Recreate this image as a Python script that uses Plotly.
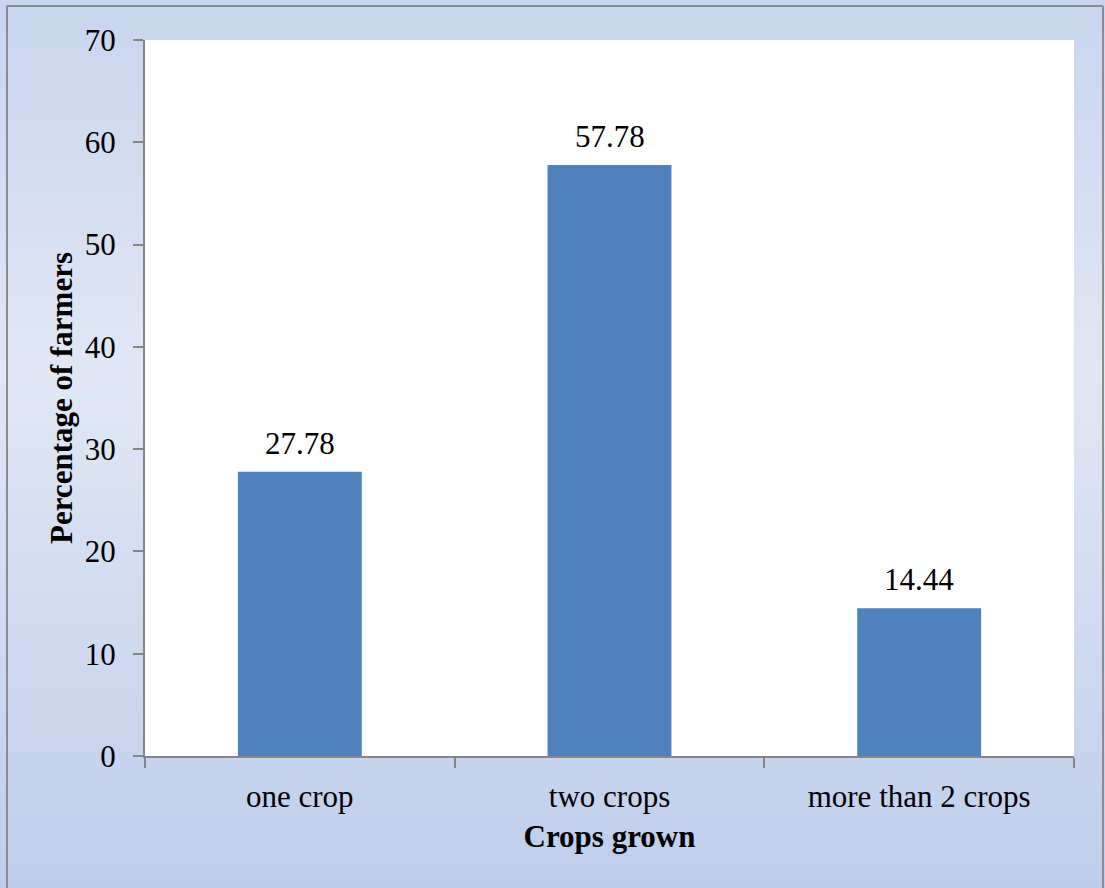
import plotly.graph_objects as go

# Data
categories = ["one crop", "two crops", "more than 2 crops"]
percentages = [27.78, 57.78, 14.44]
y_ticks = [0, 10, 20, 30, 40, 50, 60, 70]

W, H = 1105, 888
ML, MR, MT, MB = 145, 31, 40, 132
PW, PH = W - ML - MR, H - MT - MB

FONT = "Liberation Serif, Times New Roman, serif"
AXIS_GREY = "#868686"


def px_x(p):
    return (p - ML) / PW


def px_y(p):
    return 1 - (p - MT) / PH


def lerp(c1, c2, t):
    return tuple(round(a + (b - a) * t) for a, b in zip(c1, c2))


top_c = (0xC7, 0xD5, 0xEE)
mid_c = (0xE1, 0xE7, 0xF5)
bot_c = (0xBE, 0xCE, 0xEA)
mid_pos = 0.42

shapes = []
n = 90
for i in range(n):
    y0p = H * i / n
    y1p = H * (i + 1) / n
    t = (i + 0.5) / n
    if t < mid_pos:
        c = lerp(top_c, mid_c, t / mid_pos)
    else:
        c = lerp(mid_c, bot_c, (t - mid_pos) / (1 - mid_pos))
    shapes.append(dict(
        type="rect", xref="paper", yref="paper", layer="below",
        x0=px_x(0), x1=px_x(W), y0=px_y(y1p + 0.5), y1=px_y(y0p - 0.5),
        fillcolor="rgb(%d,%d,%d)" % c, line=dict(width=0),
    ))

# white plotting area on top of the gradient
shapes.append(dict(
    type="rect", xref="paper", yref="paper", layer="below",
    x0=0, x1=1, y0=0, y1=1, fillcolor="white", line=dict(width=0),
))

# outer frame of the chart
frame = dict(color="#8c8c8c", width=2)
shapes.append(dict(type="line", xref="paper", yref="paper",
                   x0=px_x(7), x1=px_x(7), y0=px_y(6), y1=px_y(H + 5), line=frame))
shapes.append(dict(type="line", xref="paper", yref="paper",
                   x0=px_x(7), x1=px_x(1103), y0=px_y(6), y1=px_y(6), line=frame))
shapes.append(dict(type="line", xref="paper", yref="paper",
                   x0=px_x(1103), x1=px_x(1103), y0=px_y(6), y1=px_y(H + 5), line=frame))

fig = go.Figure(go.Bar(
    x=categories, y=percentages,
    marker=dict(color="#4f81bd", line=dict(width=0)),
    hoverinfo="x+y",
))

annotations = [
    dict(x=c, y=v, xref="x", yref="y", text=f"{v:.2f}", showarrow=False,
         yanchor="bottom", yshift=9, font=dict(family=FONT, size=31, color="black"))
    for c, v in zip(categories, percentages)
]

fig.update_layout(
    width=W, height=H,
    margin=dict(l=ML, r=MR, t=MT, b=MB, pad=0),
    paper_bgcolor="rgba(0,0,0,0)",
    plot_bgcolor="rgba(0,0,0,0)",
    bargap=0.6,
    showlegend=False,
    shapes=shapes,
    annotations=annotations,
    font=dict(family=FONT, size=31, color="black"),
    xaxis=dict(
        type="category", tickson="boundaries",
        showline=True, linecolor=AXIS_GREY, linewidth=2,
        ticks="outside", ticklen=10, tickwidth=2, tickcolor=AXIS_GREY,
        ticklabelstandoff=12,
        showgrid=False, zeroline=False,
        tickfont=dict(family=FONT, size=31, color="black"),
        title=dict(text="<b>Crops grown</b>", standoff=12,
                   font=dict(family=FONT, size=31, color="black")),
    ),
    yaxis=dict(
        range=[0, 70], tickvals=y_ticks,
        showline=True, linecolor=AXIS_GREY, linewidth=2,
        ticks="outside", ticklen=10, tickwidth=2, tickcolor=AXIS_GREY,
        ticklabelstandoff=11,
        showgrid=False, zeroline=False,
        tickfont=dict(family=FONT, size=31, color="black"),
        title=dict(text="<b>Percentage of farmers</b>", standoff=3,
                   font=dict(family=FONT, size=31, color="black")),
    ),
)

fig.write_html("out.html")
